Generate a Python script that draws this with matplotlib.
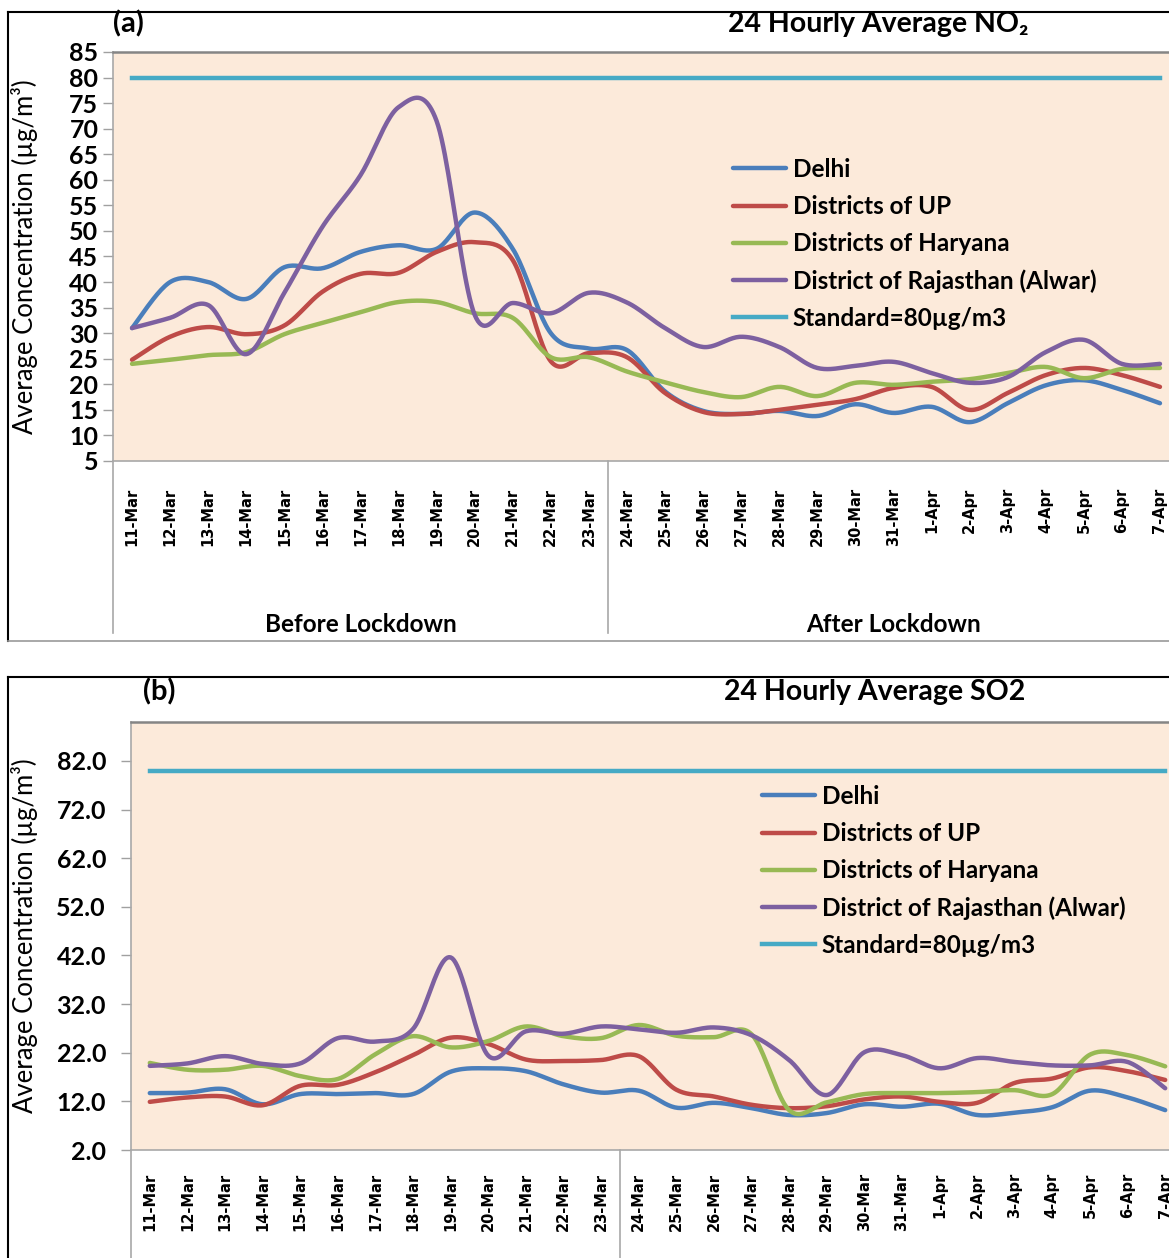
import numpy as np
import matplotlib
matplotlib.use("Agg")
import matplotlib.pyplot as plt
from matplotlib.lines import Line2D
import matplotlib.transforms as mtransforms

# --- Data ---
dates = ["11-Mar", "12-Mar", "13-Mar", "14-Mar", "15-Mar", "16-Mar", "17-Mar",
         "18-Mar", "19-Mar", "20-Mar", "21-Mar", "22-Mar", "23-Mar", "24-Mar",
         "25-Mar", "26-Mar", "27-Mar", "28-Mar", "29-Mar", "30-Mar", "31-Mar",
         "1-Apr", "2-Apr", "3-Apr", "4-Apr", "5-Apr", "6-Apr", "7-Apr"]

series_names = ["Delhi", "Districts of UP", "Districts of Haryana",
                "District of Rajasthan (Alwar)", "Standard=80µg/m3"]
colors = ["#4A7EBB", "#BE4B48", "#98B954", "#7D60A0", "#46AAC5"]
standard = 80

# NO2 (µg/m3)
no2_delhi = [31.0, 40.0, 40.0, 36.7, 42.9, 42.7, 45.9, 47.2, 46.5, 53.6, 46.5, 30.0, 27.0, 26.7,
             18.6, 14.8, 14.2, 14.8, 13.8, 16.1, 14.4, 15.6, 12.6, 16.3, 19.8, 20.8, 18.9, 16.3]
no2_up = [24.8, 29.3, 31.2, 29.8, 31.5, 38.1, 41.6, 41.8, 45.9, 47.8, 44.3, 24.5, 26.1, 25.3,
          18.3, 14.6, 14.2, 15.0, 16.0, 17.1, 19.3, 19.5, 15.0, 18.3, 21.8, 23.2, 21.8, 19.5]
no2_haryana = [24.0, 24.8, 25.7, 26.3, 29.8, 32.0, 34.1, 36.1, 36.1, 33.9, 33.0, 25.3, 25.3, 22.5,
               20.4, 18.5, 17.5, 19.5, 17.7, 20.3, 19.9, 20.5, 21.0, 22.2, 23.4, 21.2, 23.0, 23.2]
no2_alwar = [31.0, 33.0, 35.5, 25.9, 37.9, 50.8, 60.9, 74.2, 71.5, 33.6, 35.9, 33.9, 37.9, 36.0,
             31.0, 27.3, 29.3, 27.3, 23.2, 23.6, 24.4, 22.2, 20.3, 21.4, 26.3, 28.7, 24.0, 24.0]

# SO2 (µg/m3)
so2_delhi = [13.7, 13.8, 14.5, 11.4, 13.5, 13.5, 13.7, 13.5, 18.1, 18.8, 18.2, 15.5, 13.8, 14.2,
             10.7, 11.7, 10.6, 9.2, 9.6, 11.4, 10.9, 11.5, 9.2, 9.7, 10.8, 14.2, 12.8, 10.2]
so2_up = [11.9, 12.8, 13.0, 11.2, 15.2, 15.4, 18.0, 21.5, 25.1, 23.8, 20.6, 20.3, 20.5, 21.3,
          14.4, 13.0, 11.3, 10.6, 11.0, 12.4, 13.0, 11.9, 11.7, 15.8, 16.7, 19.0, 18.2, 16.4]
so2_haryana = [19.9, 18.5, 18.5, 19.3, 17.2, 16.6, 21.7, 25.4, 23.1, 24.4, 27.4, 25.4, 25.0, 27.7,
               25.5, 25.2, 25.8, 10.2, 11.8, 13.5, 13.7, 13.7, 13.9, 14.3, 13.5, 21.6, 21.5, 19.2]
so2_alwar = [19.3, 19.8, 21.3, 19.7, 19.8, 25.0, 24.3, 26.9, 41.6, 21.4, 26.4, 25.9, 27.4, 26.8,
             26.1, 27.2, 25.6, 20.5, 13.3, 22.1, 21.5, 18.8, 20.9, 20.1, 19.4, 19.4, 20.1, 14.7]

W, H = 1169, 1258


def smooth(y, n=24):
    # Bezier smoothing between neighbouring points (spreadsheet-style smoothed line)
    y = np.asarray(y, float)
    x = np.arange(len(y), dtype=float)
    px = np.concatenate([[x[0]], x, [x[-1]]])
    py = np.concatenate([[y[0]], y, [y[-1]]])
    xs, ys = [], []
    t = np.linspace(0, 1, n)
    for i in range(len(y) - 1):
        p0 = np.array([px[i + 1], py[i + 1]])
        p3 = np.array([px[i + 2], py[i + 2]])
        c1 = p0 + (p3 - np.array([px[i], py[i]])) / 6
        c2 = p3 - (np.array([px[i + 3], py[i + 3]]) - p0) / 6
        b = ((1 - t) ** 3)[:, None] * p0 + (3 * (1 - t) ** 2 * t)[:, None] * c1 \
            + (3 * (1 - t) * t ** 2)[:, None] * c2 + (t ** 3)[:, None] * p3
        xs.append(b[:, 0])
        ys.append(b[:, 1])
    return np.concatenate(xs), np.concatenate(ys)


def fx(px):
    return px / W


def fy(py):
    return 1 - py / H


plt.rcParams["font.family"] = ["Lato", "DejaVu Sans"]

fig = plt.figure(figsize=(W / 100, H / 100), dpi=100)
fig.patch.set_facecolor("white")

panels = [
    dict(box=(113, 52, 1179, 461), ylim=(5, 85), yticks=np.arange(5, 86, 5), fmt="{:.0f}",
         data=[no2_delhi, no2_up, no2_haryana, no2_alwar], tag="(a)", tag_xy=(113, 24),
         title="24 Hourly Average NO₂", title_xy=(878, 24), legend_xy=(733, 158),
         frame=(12, 641), group_y=625, sep_bottom=633, xpad=19.5, ypad=3.5),
    dict(box=(131, 722, 1184, 1150), ylim=(2, 90), yticks=np.arange(2, 83, 10), fmt="{:.1f}",
         data=[so2_delhi, so2_up, so2_haryana, so2_alwar], tag="(b)", tag_xy=(143, 692),
         title="24 Hourly Average SO2", title_xy=(875, 692), legend_xy=(762, 785),
         frame=(677, None), group_y=None, sep_bottom=1300, xpad=16.5, ypad=11),
]

for p in panels:
    l, t, r, b = p["box"]
    ax = fig.add_axes([fx(l), fy(b), fx(r) - fx(l), (b - t) / H])
    ax.set_facecolor("#FCEADA")

    x = np.arange(len(dates))
    for vals, name, c in zip(p["data"], series_names[:4], colors[:4]):
        sx, sy = smooth(vals)
        ax.plot(sx, sy, color=c, lw=3.2, label=name, solid_capstyle="round")
    ax.plot(x, [standard] * len(dates), color=colors[4], lw=3.2, label=series_names[4])

    ax.set_xlim(-0.5, len(dates) - 0.5)
    ax.set_ylim(*p["ylim"])
    ax.set_yticks(p["yticks"])
    ax.set_yticklabels([p["fmt"].format(v) for v in p["yticks"]],
                       fontsize=18, fontweight="bold")
    ax.tick_params(axis="y", direction="out", length=7, width=1, color="#A0A0A0",
                   pad=p["ypad"])

    ax.set_xticks(x)
    ax.set_xticklabels(dates, rotation=90, fontsize=10.5, fontweight="bold",
                       family="DejaVu Sans", va="top", ha="center")
    ax.tick_params(axis="x", length=0, pad=p["xpad"])

    for side in ["left", "bottom", "right"]:
        ax.spines[side].set_color("#A8A8A8")
        ax.spines[side].set_linewidth(1.2)
    ax.spines["top"].set_color("#858585")
    ax.spines["top"].set_linewidth(1.8)

    ax.set_ylabel("Average Concentration (µg/m³)", fontsize=18.5)
    ax.yaxis.set_label_coords((38 - l) / (r - l), 0.5)

    # category group separators below the axis
    trans = mtransforms.blended_transform_factory(ax.transData, ax.transAxes)
    sep_y = -(p["sep_bottom"] - b) / (b - t)
    for xv in [-0.5, 12.5]:
        ax.plot([xv, xv], [0, sep_y], color="#A8A8A8", lw=1.2, transform=trans, clip_on=False)
    if p["group_y"] is not None:
        gy = -(p["group_y"] - b) / (b - t)
        ax.text(6, gy, "Before Lockdown", transform=trans, ha="center", va="center",
                fontsize=17.5, fontweight="bold")
        ax.text(20, gy, "After Lockdown", transform=trans, ha="center", va="center",
                fontsize=17.5, fontweight="bold")

    fig.text(fx(p["tag_xy"][0]), fy(p["tag_xy"][1]), p["tag"], ha="left", va="center",
             fontsize=21, fontweight="bold")
    fig.text(fx(p["title_xy"][0]), fy(p["title_xy"][1]), p["title"], ha="center",
             va="center", fontsize=20.5, fontweight="bold")

    ax.legend(loc="upper left", bbox_to_anchor=(fx(p["legend_xy"][0]), fy(p["legend_xy"][1])),
              bbox_transform=fig.transFigure, frameon=False,
              prop=dict(weight="bold", size=17.5), handlelength=2.2, handletextpad=0.25,
              labelspacing=0.58, borderpad=0, borderaxespad=0)

    # outer panel frame
    ft, fb = p["frame"]
    bottom = fy(fb) if fb is not None else -0.05
    fig.add_artist(Line2D([fx(8), fx(8)], [fy(ft), bottom], color="black", lw=1.5))
    fig.add_artist(Line2D([fx(8), 1.05], [fy(ft), fy(ft)], color="black", lw=1.5))
    if fb is not None:
        fig.add_artist(Line2D([fx(8), 1.05], [fy(fb), fy(fb)], color="#9A9A9A", lw=1.2))

fig.savefig("out.png", dpi=100)
